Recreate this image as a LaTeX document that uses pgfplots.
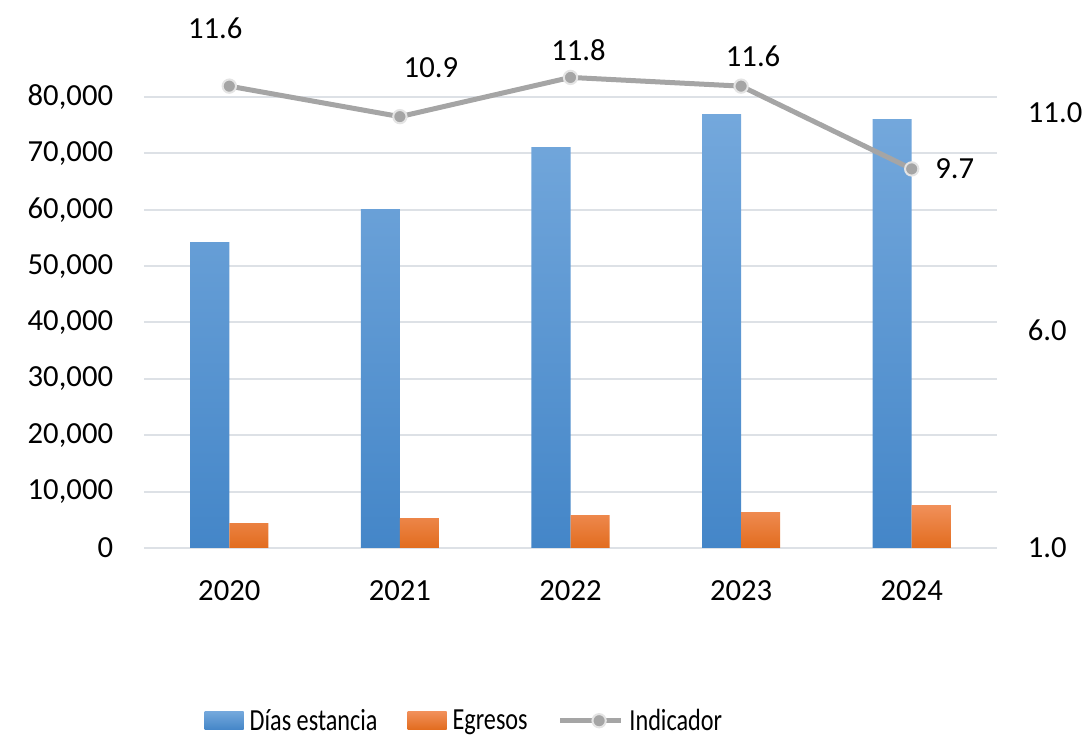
\documentclass[border=0pt]{standalone}
\usepackage{graphicx}
\usepackage{pgfplots}
\pgfplotsset{compat=1.18}
\usepackage{pgfplotstable}
\usepackage{fontspec}
\setmainfont{Carlito}

\definecolor{gridc}{HTML}{DDE1E6}
\definecolor{bluetop}{HTML}{74A8DC}
\definecolor{bluemid}{HTML}{5C9DDB}
\definecolor{bluebot}{HTML}{4486C8}
\definecolor{orgtop}{HTML}{F1905A}
\definecolor{orgmid}{HTML}{F47E2B}
\definecolor{orgbot}{HTML}{E26C1E}
\definecolor{indc}{HTML}{A5A5A5}
\definecolor{markedge}{HTML}{E4E4E4}

% dias estancia / egresos por anio
\pgfplotstableread{
x dias egresos
0 54260 4430
1 60100 5320
2 71100 5850
3 76950 6380
4 76060 7620
}\bars

% indicador, with label offsets (pt)
\pgfplotstableread{
x ind dx dy
0 11.6 -10.5 43.5
1 10.9 23.25 36.75
2 11.8 6 20.25
3 11.6 9 22.5
4 9.7 32.25 0
}\ind

\newcommand\bigfont{\fontsize{23}{28}\selectfont}
\newcommand\legtext[1]{\scalebox{0.79}[1]{#1}}

\pgfplotsset{
  barleg/.style={legend image code/.code={\path[##1] (0pt,-6.75pt) rectangle (29.25pt,6.75pt);}},
  lineleg/.style={legend image code/.code={\draw[##1] (0pt,0pt) -- (33pt,0pt);
    \draw[##1, mark repeat=1] plot coordinates {(16.5pt,0pt)};}},
  base/.style={
    width=639.75pt, height=338.25pt, scale only axis,
    at={(0,0)}, anchor=south west,
    xmin=-0.5, xmax=4.5,
    font=\bigfont,
    major tick length=0pt,
    tick style={draw=none},
    axis line style={draw=none},
    /pgf/number format/assume math mode=true,
  },
}

\begin{document}
\begin{tikzpicture}
\useasboundingbox (-108pt,-141.75pt) rectangle (706.5pt,411pt);
\begin{axis}[base,
  ymin=0, ymax=80000,
  ytick={0,10000,...,80000},
  scaled y ticks=false,
  yticklabel style={/pgf/number format/.cd, fixed, 1000 sep={,}, /tikz/.cd,
    anchor=east, inner sep=0pt, xshift=-23pt},
  ymajorgrids,
  grid style={gridc, line width=1.5pt},
  xtick={0,...,4},
  xticklabels={2020,2021,2022,2023,2024},
  xticklabel style={anchor=north, inner sep=0pt, yshift=-24pt},
  ybar=0pt,
  bar width=0.229,
  legend columns=3,
  legend style={draw=none, fill=none, font=\bigfont,
    at={(axis description cs:0.0712,-0.383)}, anchor=west,
    inner sep=0pt, outer sep=0pt,
    nodes={inner sep=0pt},
    /tikz/every odd column/.append style={column sep=4.5pt},
    /tikz/every even column/.append style={column sep=22.5pt}},
]
\addplot[draw=none, shading=axis, top color=bluetop, middle color=bluemid, bottom color=bluebot,
  bar shift=-0.1145, barleg]
  table[x=x, y=dias] {\bars};
\addlegendentry{\legtext{Días estancia}}
\addplot[draw=none, shading=axis, top color=orgtop, middle color=orgmid, bottom color=orgbot,
  bar shift=0.1145, barleg]
  table[x=x, y=egresos] {\bars};
\addlegendentry{\legtext{Egresos}}
\addlegendimage{indc, line width=3.5pt, mark=*, mark size=5pt,
  mark options={fill=indc, draw=markedge, line width=1.5pt}, lineleg}
\addlegendentry{\legtext{Indicador}}
\end{axis}

\begin{axis}[base,
  clip=false,
  ymin=1, ymax=11.351,
  ytick={1,6,11},
  yticklabel pos=right,
  yticklabel style={/pgf/number format/.cd, fixed, fixed zerofill, precision=1, /tikz/.cd,
    anchor=west, inner sep=0pt, xshift=23pt},
  xtick=\empty,
]
\addplot[indc, line width=3.75pt, mark=*, mark size=5pt,
  mark options={fill=indc, draw=markedge, line width=1.5pt},
  visualization depends on={\thisrow{dx} \as \dx},
  visualization depends on={\thisrow{dy} \as \dy},
  nodes near coords={\pgfmathprintnumber[fixed, fixed zerofill, precision=1]{\pgfplotspointmeta}},
  every node near coord/.append style={anchor=center, text=black, inner sep=0pt,
    xshift=\dx pt, yshift=\dy pt, font=\bigfont},
] table[x=x, y=ind] {\ind};
\end{axis}
\end{tikzpicture}
\end{document}
